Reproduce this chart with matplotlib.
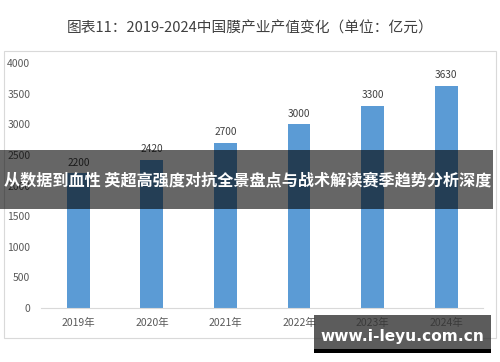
import matplotlib
matplotlib.use("Agg")
import matplotlib.pyplot as plt
from matplotlib.patches import Rectangle

plt.rcParams['font.family'] = ['Noto Sans CJK SC', 'DejaVu Sans']

years = ['2019年', '2020年', '2021年', '2022年', '2023年', '2024年']
values = [2200, 2420, 2700, 3000, 3300, 3630]
yticks = [0, 500, 1000, 1500, 2000, 2500, 3000, 3500, 4000]

title = '图表11：2019-2024中国膜产业产值变化（单位：亿元）'
banner = '从数据到血性 英超高强度对抗全景盘点与战术解读赛季趋势分析深度'
site = 'www.i-leyu.com.cn'

W, H = 500, 362
fig = plt.figure(figsize=(W / 100, H / 100), dpi=100)
fig.patch.set_facecolor('white')

def fx(px):
    return px / W

def fy(py):
    return 1 - py / H

# chart frame
fig.patches.append(Rectangle((fx(4), fy(338)), fx(492), 287 / H, transform=fig.transFigure,
                             facecolor='white', edgecolor='#d9d9d9', linewidth=0.8, zorder=-5))

fig.text(0.5, fy(28), title, ha='center', va='center', fontsize=10.6, color='#404040')

ax = fig.add_axes([fx(41.5), fy(308), fx(441.5), 245 / H])
ax.set_facecolor('none')
x = range(len(years))
ax.bar(x, values, width=0.31, color='#5b9bd5', zorder=2)
for i, v in zip(x, values):
    ax.annotate(str(v), (i, v), xytext=(0, 4), textcoords='offset points',
                ha='center', va='bottom', fontsize=7.3, color='#404040')

ax.set_xlim(-0.5, len(years) - 0.5)
ax.set_ylim(0, 4000)
ax.set_yticks(yticks)
ax.set_yticklabels([str(t) for t in yticks])
ax.set_xticks(list(x))
ax.set_xticklabels(years)
ax.tick_params(axis='y', length=0, pad=8, labelsize=7.5, labelcolor='#595959')
ax.tick_params(axis='x', length=0, pad=7, labelsize=7.5, labelcolor='#595959')
for s in ['top', 'right', 'left']:
    ax.spines[s].set_visible(False)
ax.spines['bottom'].set_color('#d9d9d9')
ax.spines['bottom'].set_linewidth(0.8)

# overlay banner
fig.patches.append(Rectangle((0, fy(209)), fx(493), 59 / H, transform=fig.transFigure,
                             facecolor='black', alpha=0.6, edgecolor='none', zorder=5))
fig.text(fx(248), fy(180), banner, ha='center', va='center', fontsize=11.6,
         fontweight='bold', color='white', zorder=6)

# site watermark
fig.patches.append(Rectangle((fx(314), fy(353)), fx(177), 38 / H, transform=fig.transFigure,
                             facecolor='#333333', alpha=0.8, edgecolor='none', zorder=5))
fig.patches.append(Rectangle((fx(314), fy(353)), fx(177), 4 / H, transform=fig.transFigure,
                             facecolor='black', edgecolor='none', zorder=5))
fig.text(fx(402), fy(337), site, ha='center', va='center', fontsize=11.1,
         fontweight='bold', color='white', family=['DejaVu Sans'], zorder=6)

fig.savefig('out.png', dpi=100)
